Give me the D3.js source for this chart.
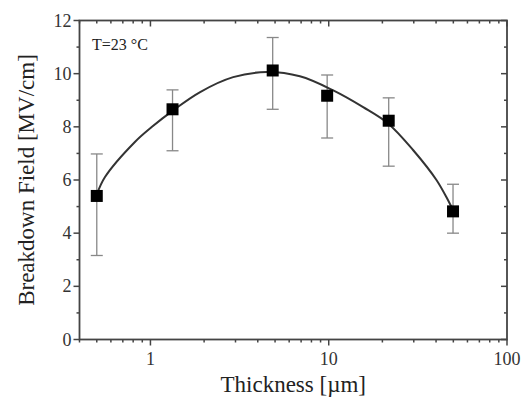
<!DOCTYPE html>
<html><head><meta charset="utf-8">
<script src="https://cdn.jsdelivr.net/npm/d3@7/dist/d3.min.js"></script>
<style>body{margin:0;background:#fff}svg{display:block}</style>
</head><body>
<script>
// Data
const thickness = [0.5, 1.33, 4.85, 9.8, 21.7, 49.8];
const field = [5.4, 8.66, 10.12, 9.17, 8.23, 4.82];
const errHigh = [6.98, 9.39, 11.36, 9.95, 9.09, 5.84];
const errLow = [3.16, 7.1, 8.66, 7.58, 6.52, 4.0];
const fitX = [0.5, 0.556, 0.818, 1.016, 1.34, 1.9, 2.91, 4.49, 6.89, 10.6, 15.6, 21.6, 29.8, 40.3, 48.9];
const fitY = [5.45, 6.11, 7.43, 7.99, 8.62, 9.31, 9.87, 10.06, 9.9, 9.37, 8.74, 8.12, 7.12, 5.99, 4.98];
const xTickLabels = ["1", "10", "100"];
const yTickLabels = ["0", "2", "4", "6", "8", "10", "12"];

const W = 523, H = 401;
const L = 79.5, R = 507, T = 20.5, B = 339.5;
const svg = d3.select("body").append("svg").attr("width", W).attr("height", H)
  .style("font-family", "'Liberation Serif', 'Times New Roman', serif");

const x = d3.scaleLog().domain([0.4, 100]).range([L, R]);
const y = d3.scaleLinear().domain([0, 12]).range([B, T]);

const majorX = xTickLabels.map(Number);
const minorX = [];
[0.1, 1, 10].forEach(d => { for (let k = 2; k <= 9; k++) { const v = d * k; if (v >= 0.4 && v < 100) minorX.push(v); } });
const majorY = yTickLabels.map(Number);
const minorY = d3.range(1, 12, 2);

const axisColor = "#444";
const g = svg.append("g");

// bottom & top ticks (all pointing down)
function hTicks(yPos, vals, len) {
  g.selectAll(null).data(vals).enter().append("line")
    .attr("x1", d => x(d)).attr("x2", d => x(d))
    .attr("y1", yPos).attr("y2", yPos + len)
    .attr("stroke", axisColor).attr("stroke-width", 1.5);
}
hTicks(B, majorX, 6); hTicks(B, minorX, 3);
hTicks(T, majorX, 6); hTicks(T, minorX, 3);
// left & right ticks (all pointing left)
function vTicks(xPos, vals, len) {
  g.selectAll(null).data(vals).enter().append("line")
    .attr("x1", xPos - len).attr("x2", xPos)
    .attr("y1", d => y(d)).attr("y2", d => y(d))
    .attr("stroke", axisColor).attr("stroke-width", 1.5);
}
vTicks(L, majorY, 6); vTicks(L, minorY, 3);
vTicks(R, majorY, 6); vTicks(R, minorY, 3);

// frame
g.append("rect").attr("x", L).attr("y", T).attr("width", R - L).attr("height", B - T)
  .attr("fill", "none").attr("stroke", axisColor).attr("stroke-width", 1.8);

// tick labels
g.selectAll(null).data(xTickLabels).enter().append("text")
  .attr("x", d => x(+d)).attr("y", B + 25).attr("text-anchor", "middle")
  .attr("font-size", 18).attr("fill", "#333").text(d => d);
g.selectAll(null).data(yTickLabels).enter().append("text")
  .attr("x", L - 8).attr("y", d => y(+d) + 6).attr("text-anchor", "end")
  .attr("font-size", 18).attr("fill", "#333").text(d => d);

// axis titles
svg.append("text").attr("x", (L + R) / 2).attr("y", 392).attr("text-anchor", "middle")
  .attr("font-size", 23).attr("fill", "#222").text("Thickness [\u00b5m]");
svg.append("text").attr("transform", `translate(34,${(T + B) / 2}) rotate(-90)`)
  .attr("text-anchor", "middle").attr("font-size", 23).attr("fill", "#222")
  .text("Breakdown Field [MV/cm]");

// annotation
svg.append("text").attr("x", 92).attr("y", 50).attr("font-size", 16).attr("fill", "#222")
  .text("T=23 \u00b0C");

// error bars
const idx = d3.range(thickness.length);
const eb = svg.append("g").attr("stroke", "#888").attr("stroke-width", 1.3);
eb.selectAll(null).data(idx).enter().append("line")
  .attr("x1", i => x(thickness[i])).attr("x2", i => x(thickness[i]))
  .attr("y1", i => y(errLow[i])).attr("y2", i => y(errHigh[i]));
[errLow, errHigh].forEach(arr => {
  eb.selectAll(null).data(idx).enter().append("line")
    .attr("x1", i => x(thickness[i]) - 6).attr("x2", i => x(thickness[i]) + 6)
    .attr("y1", i => y(arr[i])).attr("y2", i => y(arr[i]));
});

// fit curve
const line = d3.line().x(d => x(d[0])).y(d => y(d[1])).curve(d3.curveCatmullRom.alpha(0.5));
svg.append("path").datum(fitX.map((v, i) => [v, fitY[i]]))
  .attr("d", line).attr("fill", "none").attr("stroke", "#333").attr("stroke-width", 2);

// markers
svg.append("g").selectAll("rect").data(idx).enter().append("rect")
  .attr("x", i => x(thickness[i]) - 6).attr("y", i => y(field[i]) - 6)
  .attr("width", 12).attr("height", 12).attr("fill", "#000");
</script>
</body></html>
